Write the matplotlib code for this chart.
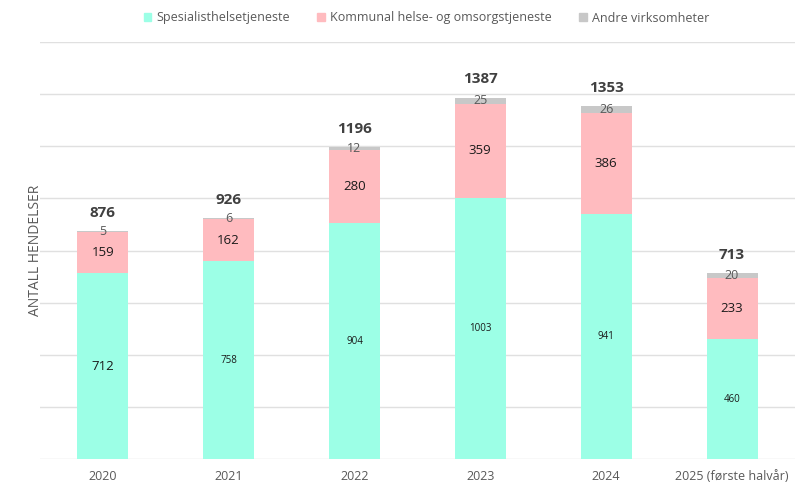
import numpy as np
import matplotlib
matplotlib.use("Agg")
import matplotlib.pyplot as plt
from matplotlib.patches import Patch

plt.rcParams["font.family"] = ["Open Sans", "DejaVu Sans"]

# ----------------- data -----------------
years = ["2020", "2021", "2022", "2023", "2024", "2025 (første halvår)"]
spesialist = [712, 758, 904, 1003, 941, 460]
kommunal = [159, 162, 280, 359, 386, 233]
andre = [5, 6, 12, 25, 26, 20]
totals = [876, 926, 1196, 1387, 1353, 713]

# font size of the cyan labels differs per bar in the original
spes_label_size = [9.5, 7, 7, 7, 7, 7]

c_spes = "#9CFFE6"
c_komm = "#FFBBBF"
c_andre = "#C8C8C8"

fig = plt.figure(figsize=(8.12, 5.0), dpi=100)
ax = fig.add_axes([0.049, 0.082, 0.93, 0.834])

x = np.arange(len(years))
w = 0.405
spes = np.array(spesialist)
komm = np.array(kommunal)
andr = np.array(andre)

ax.bar(x, spes, w, color=c_spes, zorder=2)
ax.bar(x, komm, w, bottom=spes, color=c_komm, zorder=2)
ax.bar(x, andr, w, bottom=spes + komm, color=c_andre, zorder=2)

for i in range(len(x)):
    ax.text(x[i], spes[i] / 2, str(spes[i]), ha="center", va="center",
            fontsize=spes_label_size[i], color="#1a1a1a", zorder=3)
    ax.text(x[i], spes[i] + komm[i] / 2, str(komm[i]), ha="center", va="center",
            fontsize=9.5, color="#1a1a1a", zorder=3)
    ax.text(x[i], spes[i] + komm[i] + andr[i] / 2, str(andr[i]), ha="center",
            va="center", fontsize=9, color="#595959", zorder=3)
    ax.annotate(str(totals[i]), (x[i], spes[i] + komm[i] + andr[i]),
                xytext=(0, 8), textcoords="offset points", ha="center",
                va="bottom", fontsize=11, fontweight="bold", color="#404040")

ax.set_xlim(-0.5, 5.5)
ax.set_ylim(0, 1600)
ax.set_yticks(np.arange(0, 1601, 200))
ax.set_yticklabels([])
ax.yaxis.grid(True, color="#E0E0E0", linewidth=1, zorder=0)
ax.tick_params(axis="y", length=0)
ax.tick_params(axis="x", length=0, pad=8, labelsize=9, labelcolor="#595959")
ax.set_xticks(x)
ax.set_xticklabels(years)
for s in ["top", "right", "left", "bottom"]:
    ax.spines[s].set_visible(False)

ax.set_ylabel("ANTALL HENDELSER", fontsize=10, color="#595959", labelpad=-6)

handles = [Patch(color=c_spes), Patch(color=c_komm), Patch(color=c_andre)]
fig.legend(handles, ["Spesialisthelsetjeneste", "Kommunal helse- og omsorgstjeneste",
                     "Andre virksomheter"],
           loc="center", bbox_to_anchor=(0.525, 0.964), ncol=3, frameon=False,
           fontsize=9, handlelength=0.6, handleheight=0.6, handletextpad=0.4,
           columnspacing=2.2, labelcolor="#595959")

plt.savefig("out.png", dpi=100)
